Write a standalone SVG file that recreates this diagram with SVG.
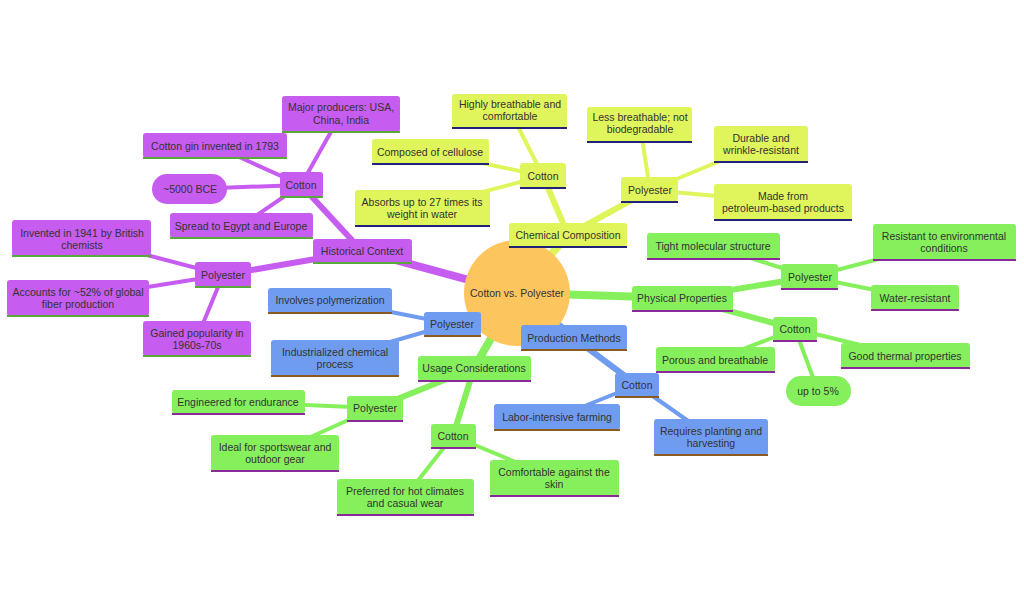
<svg xmlns="http://www.w3.org/2000/svg" width="1024" height="606" viewBox="0 0 1024 606">
<style>
text{font-family:"Liberation Sans",Arial,sans-serif;font-size:10.5px;fill:#333;text-anchor:middle}
.p rect{fill:#c65cf0}.y rect{fill:#e0f55c}.g rect{fill:#86f05c}.b rect{fill:#709cf0}
.p line.u{stroke:#5aa83a}.y line.u{stroke:#22227a}.g line.u{stroke:#8a2a9a}.b line.u{stroke:#8a5a20}
line.u{stroke-width:2}
#edges line{stroke-linecap:round}
.ep{stroke:#c65cf0}.ey{stroke:#e0f55c}.eg{stroke:#86f05c}.eb{stroke:#709cf0}
.w1{stroke-width:8}.w2{stroke-width:6}.w3{stroke-width:4}
</style>
<rect width="1024" height="606" fill="#fff"/>
<g id="edges">
<line class="ep w1" x1="517" y1="293" x2="362" y2="251"/>
<line class="ep w2" x1="362" y1="251" x2="301" y2="185"/>
<line class="ep w3" x1="301" y1="185" x2="341" y2="114"/>
<line class="ep w3" x1="301" y1="185" x2="215" y2="146"/>
<line class="ep w3" x1="301" y1="185" x2="190" y2="189"/>
<line class="ep w3" x1="301" y1="185" x2="241" y2="226"/>
<line class="ep w2" x1="362" y1="251" x2="223" y2="275"/>
<line class="ep w3" x1="223" y1="275" x2="82" y2="238"/>
<line class="ep w3" x1="223" y1="275" x2="78" y2="298"/>
<line class="ep w3" x1="223" y1="275" x2="197" y2="338"/>
<line class="ey w1" x1="517" y1="293" x2="568" y2="235"/>
<line class="ey w2" x1="568" y1="235" x2="543" y2="176"/>
<line class="ey w3" x1="543" y1="176" x2="510" y2="111"/>
<line class="ey w3" x1="543" y1="176" x2="430" y2="152"/>
<line class="ey w3" x1="543" y1="176" x2="422" y2="208"/>
<line class="ey w2" x1="568" y1="235" x2="650" y2="190"/>
<line class="ey w3" x1="650" y1="190" x2="640" y2="125"/>
<line class="ey w3" x1="650" y1="190" x2="761" y2="144"/>
<line class="ey w3" x1="650" y1="190" x2="783" y2="202"/>
<line class="eg w1" x1="517" y1="293" x2="682" y2="298"/>
<line class="eg w2" x1="682" y1="298" x2="810" y2="277"/>
<line class="eg w3" x1="810" y1="277" x2="713" y2="246"/>
<line class="eg w3" x1="810" y1="277" x2="944" y2="242"/>
<line class="eg w3" x1="810" y1="277" x2="915" y2="298"/>
<line class="eg w2" x1="682" y1="298" x2="795" y2="329"/>
<line class="eg w3" x1="795" y1="329" x2="715" y2="360"/>
<line class="eg w3" x1="795" y1="329" x2="905" y2="356"/>
<line class="eg w3" x1="795" y1="329" x2="818" y2="391"/>
<line class="eb w1" x1="517" y1="293" x2="574" y2="338"/>
<line class="eb w2" x1="574" y1="338" x2="637" y2="385"/>
<line class="eb w3" x1="637" y1="385" x2="557" y2="417"/>
<line class="eb w3" x1="637" y1="385" x2="711" y2="437"/>
<line class="eb w2" x1="517" y1="293" x2="452" y2="324"/>
<line class="eb w3" x1="452" y1="324" x2="330" y2="300"/>
<line class="eb w3" x1="452" y1="324" x2="335" y2="358"/>
<line class="eg w1" x1="517" y1="293" x2="474" y2="368"/>
<line class="eg w2" x1="474" y1="368" x2="375" y2="408"/>
<line class="eg w3" x1="375" y1="408" x2="238" y2="402"/>
<line class="eg w3" x1="375" y1="408" x2="275" y2="453"/>
<line class="eg w2" x1="474" y1="368" x2="453" y2="436"/>
<line class="eg w3" x1="453" y1="436" x2="554" y2="478"/>
<line class="eg w3" x1="453" y1="436" x2="405" y2="497"/>
</g>
<g id="center"><circle cx="517" cy="293" r="53" fill="#fdc55e"/><text x="517" y="297">Cotton vs. Polyester</text></g>

<g id="hist" class="p"><rect x="313" y="239" width="99" height="24" rx="3"/><line class="u" x1="313" y1="263" x2="412" y2="263"/><text x="362" y="255">Historical Context</text></g>
<g id="hcot" class="p"><rect x="280" y="172" width="43" height="25" rx="3"/><line class="u" x1="280" y1="197" x2="323" y2="197"/><text x="301" y="189">Cotton</text></g>
<g id="hmaj" class="p"><rect x="282" y="96" width="118" height="36" rx="3"/><line class="u" x1="282" y1="132" x2="400" y2="132"/><text x="341" y="111">Major producers: USA,</text><text x="341" y="124">China, India</text></g>
<g id="hgin" class="p"><rect x="143" y="133" width="144" height="25" rx="3"/><line class="u" x1="143" y1="158" x2="287" y2="158"/><text x="215" y="150">Cotton gin invented in 1793</text></g>
<g id="hbce" class="p"><rect x="152" y="174" width="75" height="30" rx="15"/><text x="190" y="193">~5000 BCE</text></g>
<g id="hspr" class="p"><rect x="170" y="213" width="143" height="25" rx="3"/><line class="u" x1="170" y1="238" x2="313" y2="238"/><text x="241" y="230">Spread to Egypt and Europe</text></g>
<g id="hpol" class="p"><rect x="195" y="262" width="56" height="25" rx="3"/><line class="u" x1="195" y1="287" x2="251" y2="287"/><text x="223" y="279">Polyester</text></g>
<g id="hinv" class="p"><rect x="12" y="220" width="139" height="36" rx="3"/><line class="u" x1="12" y1="256" x2="151" y2="256"/><text x="82" y="237">Invented in 1941 by British</text><text x="82" y="249">chemists</text></g>
<g id="hacc" class="p"><rect x="7" y="280" width="142" height="36" rx="3"/><line class="u" x1="7" y1="316" x2="149" y2="316"/><text x="78" y="296">Accounts for ~52% of global</text><text x="78" y="308">fiber production</text></g>
<g id="hgai" class="p"><rect x="143" y="321" width="108" height="35" rx="3"/><line class="u" x1="143" y1="356" x2="251" y2="356"/><text x="197" y="337">Gained popularity in</text><text x="197" y="349">1960s-70s</text></g>

<g id="chem" class="y"><rect x="509" y="223" width="118" height="24" rx="3"/><line class="u" x1="509" y1="247" x2="627" y2="247"/><text x="568" y="239">Chemical Composition</text></g>
<g id="ccot" class="y"><rect x="520" y="163" width="46" height="25" rx="3"/><line class="u" x1="520" y1="188" x2="566" y2="188"/><text x="543" y="180">Cotton</text></g>
<g id="chig" class="y"><rect x="452" y="94" width="115" height="34" rx="3"/><line class="u" x1="452" y1="128" x2="567" y2="128"/><text x="510" y="108">Highly breathable and</text><text x="510" y="120">comfortable</text></g>
<g id="ccel" class="y"><rect x="372" y="139" width="117" height="25" rx="3"/><line class="u" x1="372" y1="164" x2="489" y2="164"/><text x="430" y="156">Composed of cellulose</text></g>
<g id="cabs" class="y"><rect x="355" y="190" width="135" height="36" rx="3"/><line class="u" x1="355" y1="226" x2="490" y2="226"/><text x="422" y="206">Absorbs up to 27 times its</text><text x="422" y="218">weight in water</text></g>
<g id="cpol" class="y"><rect x="621" y="177" width="57" height="25" rx="3"/><line class="u" x1="621" y1="202" x2="678" y2="202"/><text x="650" y="194">Polyester</text></g>
<g id="cles" class="y"><rect x="587" y="107" width="105" height="35" rx="3"/><line class="u" x1="587" y1="142" x2="692" y2="142"/><text x="640" y="121">Less breathable; not</text><text x="640" y="133">biodegradable</text></g>
<g id="cdur" class="y"><rect x="714" y="126" width="94" height="36" rx="3"/><line class="u" x1="714" y1="162" x2="808" y2="162"/><text x="761" y="142">Durable and</text><text x="761" y="154">wrinkle-resistant</text></g>
<g id="cpet" class="y"><rect x="714" y="184" width="138" height="36" rx="3"/><line class="u" x1="714" y1="220" x2="852" y2="220"/><text x="783" y="200">Made from</text><text x="783" y="212">petroleum-based products</text></g>

<g id="phys" class="g"><rect x="632" y="286" width="101" height="25" rx="3"/><line class="u" x1="632" y1="311" x2="733" y2="311"/><text x="682" y="302">Physical Properties</text></g>
<g id="ppol" class="g"><rect x="781" y="264" width="57" height="25" rx="3"/><line class="u" x1="781" y1="289" x2="838" y2="289"/><text x="810" y="281">Polyester</text></g>
<g id="ptig" class="g"><rect x="647" y="233" width="133" height="26" rx="3"/><line class="u" x1="647" y1="259" x2="780" y2="259"/><text x="713" y="250">Tight molecular structure</text></g>
<g id="pres" class="g"><rect x="873" y="224" width="143" height="36" rx="3"/><line class="u" x1="873" y1="260" x2="1016" y2="260"/><text x="944" y="240">Resistant to environmental</text><text x="944" y="252">conditions</text></g>
<g id="pwat" class="g"><rect x="871" y="285" width="88" height="25" rx="3"/><line class="u" x1="871" y1="310" x2="959" y2="310"/><text x="915" y="302">Water-resistant</text></g>
<g id="pcot" class="g"><rect x="773" y="317" width="44" height="24" rx="3"/><line class="u" x1="773" y1="341" x2="817" y2="341"/><text x="795" y="333">Cotton</text></g>
<g id="ppor" class="g"><rect x="656" y="347" width="119" height="25" rx="3"/><line class="u" x1="656" y1="372" x2="775" y2="372"/><text x="715" y="364">Porous and breathable</text></g>
<g id="pthe" class="g"><rect x="841" y="343" width="129" height="25" rx="3"/><line class="u" x1="841" y1="368" x2="970" y2="368"/><text x="905" y="360">Good thermal properties</text></g>
<g id="pup" class="g"><rect x="786" y="376" width="65" height="30" rx="15"/><text x="818" y="395">up to 5%</text></g>

<g id="prod" class="b"><rect x="521" y="325" width="106" height="25" rx="3"/><line class="u" x1="521" y1="350" x2="627" y2="350"/><text x="574" y="342">Production Methods</text></g>
<g id="bcot" class="b"><rect x="615" y="373" width="44" height="24" rx="3"/><line class="u" x1="615" y1="397" x2="659" y2="397"/><text x="637" y="389">Cotton</text></g>
<g id="blab" class="b"><rect x="494" y="404" width="126" height="26" rx="3"/><line class="u" x1="494" y1="430" x2="620" y2="430"/><text x="557" y="421">Labor-intensive farming</text></g>
<g id="breq" class="b"><rect x="654" y="419" width="114" height="36" rx="3"/><line class="u" x1="654" y1="455" x2="768" y2="455"/><text x="711" y="435">Requires planting and</text><text x="711" y="447">harvesting</text></g>
<g id="bpol" class="b"><rect x="424" y="312" width="57" height="24" rx="3"/><line class="u" x1="424" y1="336" x2="481" y2="336"/><text x="452" y="328">Polyester</text></g>
<g id="binv" class="b"><rect x="268" y="288" width="124" height="25" rx="3"/><line class="u" x1="268" y1="313" x2="392" y2="313"/><text x="330" y="304">Involves polymerization</text></g>
<g id="bind" class="b"><rect x="271" y="340" width="128" height="36" rx="3"/><line class="u" x1="271" y1="376" x2="399" y2="376"/><text x="335" y="356">Industrialized chemical</text><text x="335" y="368">process</text></g>

<g id="usage" class="g"><rect x="418" y="356" width="113" height="25" rx="3"/><line class="u" x1="418" y1="381" x2="531" y2="381"/><text x="474" y="372">Usage Considerations</text></g>
<g id="upol" class="g"><rect x="347" y="396" width="56" height="25" rx="3"/><line class="u" x1="347" y1="421" x2="403" y2="421"/><text x="375" y="412">Polyester</text></g>
<g id="ueng" class="g"><rect x="172" y="390" width="133" height="24" rx="3"/><line class="u" x1="172" y1="414" x2="305" y2="414"/><text x="238" y="406">Engineered for endurance</text></g>
<g id="uide" class="g"><rect x="211" y="435" width="128" height="36" rx="3"/><line class="u" x1="211" y1="471" x2="339" y2="471"/><text x="275" y="451">Ideal for sportswear and</text><text x="275" y="463">outdoor gear</text></g>
<g id="ucot" class="g"><rect x="431" y="424" width="45" height="24" rx="3"/><line class="u" x1="431" y1="448" x2="476" y2="448"/><text x="453" y="440">Cotton</text></g>
<g id="ucom" class="g"><rect x="490" y="460" width="129" height="36" rx="3"/><line class="u" x1="490" y1="496" x2="619" y2="496"/><text x="554" y="476">Comfortable against the</text><text x="554" y="488">skin</text></g>
<g id="upre" class="g"><rect x="337" y="479" width="137" height="36" rx="3"/><line class="u" x1="337" y1="515" x2="474" y2="515"/><text x="405" y="495">Preferred for hot climates</text><text x="405" y="507">and casual wear</text></g>
</svg>
